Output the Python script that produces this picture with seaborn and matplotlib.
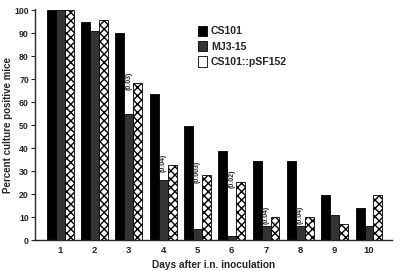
import matplotlib
matplotlib.use("Agg")
import matplotlib.pyplot as plt
import numpy as np
import pandas as pd
import seaborn as sns

###############################################################################
# Data.

days = ["1", "2", "3", "4", "5", "6", "7", "8", "9", "10"]
strains = ["CS101", "MJ3-15", "CS101::pSF152"]
cs101 = [100, 95, 90, 63.5, 49.5, 39, 34.5, 34.5, 19.5, 14]
mj3_15 = [100, 91, 55, 26, 5, 2, 6, 6, 11, 6]
psf152 = [100, 96, 68.5, 32.5, 28.5, 25.5, 10, 10, 7, 19.5]
pvalue_days = ["3", "4", "5", "6", "7", "8"]
pvalue_labels = ["(0.03)", "(0.04)", "(0.003)", "(0.02)", "(0.04)", "(0.04)"]

df = pd.DataFrame({
    "day": days * 3,
    "strain": np.repeat(strains, len(days)),
    "percent": cs101 + mj3_15 + psf152,
})

###############################################################################
# Plot settings.

sns.set_style("ticks")
plt.rcParams["font.family"] = ["Liberation Sans", "DejaVu Sans"]
plt.rcParams["font.weight"] = "bold"
plt.rcParams["hatch.linewidth"] = 1.0
palette = {"CS101": "#000000", "MJ3-15": "#333333", "CS101::pSF152": "#ffffff"}

fig = plt.figure(figsize=(4.0, 2.71), dpi=100)
ax = fig.add_axes([0.088, 0.114, 0.892, 0.852])

sns.barplot(data=df, x="day", y="percent", hue="strain", order=days,
            hue_order=strains, palette=palette, width=0.78, ax=ax,
            edgecolor="black", linewidth=0.6, saturation=1, legend=True)

for bar in ax.containers[2]:
    bar.set_hatch("xxxx")

###############################################################################
# P value annotations above the MJ3-15 bars.

for d, lab in zip(pvalue_days, pvalue_labels):
    i = days.index(d)
    bar = ax.containers[1][i]
    xc = bar.get_x() + bar.get_width() / 2
    ax.text(xc, psf152[i] + 1, lab, rotation=90, ha="center", va="center",
            fontsize=5, fontweight="bold")

###############################################################################
# Axes.

ax.set_xlim(-0.73, 9.67)
ax.set_ylim(0, 100.5)
ax.set_yticks(range(0, 101, 10))
ax.tick_params(axis="y", labelsize=6.3, length=3, width=0.8, pad=1.5)
ax.tick_params(axis="x", labelsize=6.8, length=0, pad=4)
ax.set_xlabel("Days after i.n. inoculation", fontsize=7.3, fontweight="bold",
              labelpad=4)
ax.set_ylabel("Percent culture positive mice", fontsize=7,
              fontweight="bold", labelpad=1)
sns.despine(ax=ax)
ax.spines["left"].set_linewidth(1.0)
ax.spines["bottom"].set_linewidth(1.0)

leg = ax.legend(loc="upper left", bbox_to_anchor=(0.43, 0.97), frameon=False,
                fontsize=7.6, handlelength=0.8, handleheight=1.1,
                handletextpad=0.4, labelspacing=0.45)
for t in leg.get_texts():
    t.set_fontweight("bold")

fig.savefig("out.png", dpi=100)
